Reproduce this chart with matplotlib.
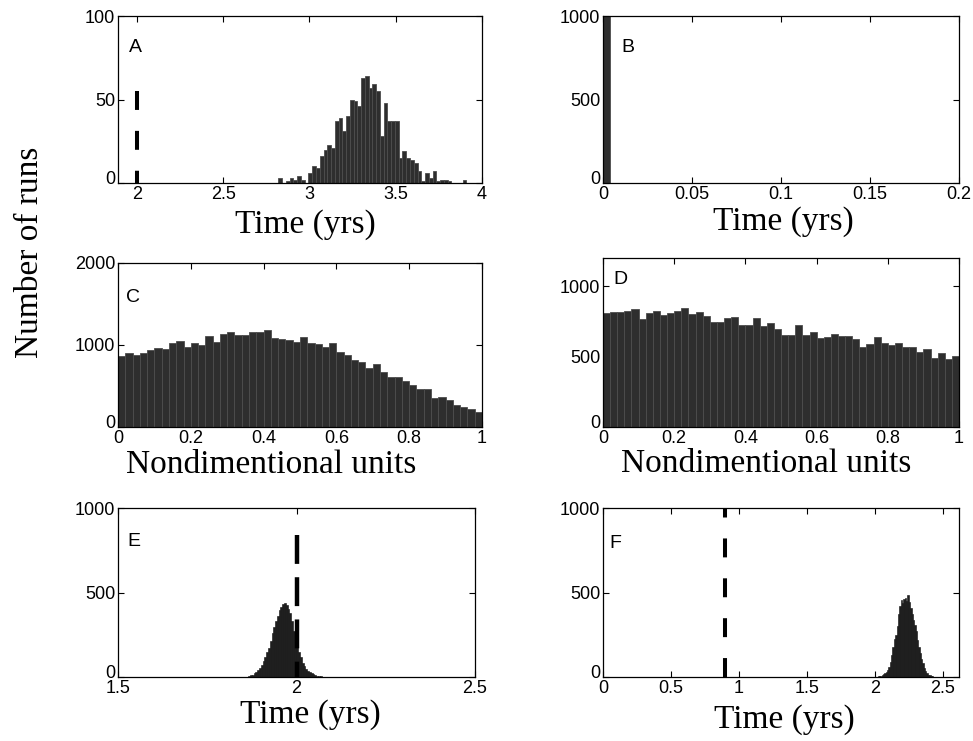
import numpy as np
import matplotlib
matplotlib.use('Agg')
import matplotlib.pyplot as plt
import matplotlib.transforms as mtrans
from matplotlib.ticker import FormatStrFormatter

plt.rcParams['font.family'] = 'Liberation Sans'

# ---- data ----
# A: time (yrs), 50 bins from 2.82, width 0.0218
a_start = 2.82
a_width = 0.0218
a_counts = [3, 0, 1, 3, 2, 4, 2, 0, 6, 10,
            9, 16, 20, 23, 21, 37, 39, 31, 40, 50,
            49, 46, 63, 64, 57, 59, 55, 28, 48, 37,
            37, 37, 15, 19, 15, 14, 12, 7, 1, 6,
            3, 7, 1, 2, 2, 1, 0, 0, 0, 2]
a_marker = 2.0
a_marker_top = 55

# B: almost everything in the first bin
b_left = [0.0]
b_width = 0.004
b_counts = [1000]

# C and D: 50 bins on [0, 1]
cd_width = 0.02
c_counts = [869, 898, 873, 906, 939, 967, 955, 1025, 1045, 975,
            1020, 1004, 1110, 1033, 1139, 1160, 1127, 1123, 1160, 1164,
            1180, 1086, 1070, 1061, 1041, 1094, 1020, 1008, 975, 1020,
            914, 873, 816, 787, 721, 762, 676, 607, 611, 557,
            516, 467, 467, 357, 369, 332, 266, 238, 213, 180]
d_counts = [807, 816, 814, 823, 835, 764, 811, 823, 792, 811,
            823, 842, 802, 814, 788, 748, 745, 771, 781, 726,
            724, 771, 719, 736, 693, 651, 651, 722, 656, 672,
            630, 639, 658, 646, 649, 623, 571, 587, 637, 597,
            582, 594, 568, 568, 533, 557, 493, 524, 483, 502]

# E: narrow bins from 1.86, width 0.005
e_start = 1.86
e_width = 0.005
e_counts = [2, 5, 9, 14, 21, 30, 40, 52, 70, 93,
            118, 146, 172, 210, 260, 295, 330, 362, 395, 415,
            432, 440, 425, 405, 380, 330, 275, 225, 185, 150,
            120, 85, 65, 48, 36, 28, 22, 16, 11, 7,
            5, 3, 2, 1, 1]
e_marker = 2.0
e_marker_top = 840

# F: narrow bins from 2.02, width 0.01
f_start = 2.02
f_width = 0.01
f_counts = [3, 5, 8, 12, 17, 22, 30, 42, 62, 90,
            130, 180, 222, 250, 300, 370, 420, 455, 440, 460,
            470, 450, 485, 445, 410, 370, 335, 305, 270, 220,
            180, 140, 105, 80, 55, 38, 24, 14, 9, 5,
            3, 1]
f_marker = 0.9
f_marker_top = 1000

BAR_FACE = '#2e2e2e'
BAR_EDGE = '#4d4d4d'

fig = plt.figure(figsize=(9.73, 7.41), dpi=100)

axA = fig.add_axes([0.1213, 0.753, 0.374, 0.2254])
axB = fig.add_axes([0.6197, 0.753, 0.366, 0.2254])
axC = fig.add_axes([0.1213, 0.4238, 0.374, 0.2213])
axD = fig.add_axes([0.6197, 0.4238, 0.366, 0.228])
axE = fig.add_axes([0.1213, 0.0864, 0.3669, 0.228])
axF = fig.add_axes([0.6197, 0.0864, 0.366, 0.228])


def hist_bars(ax, start, width, counts, face=BAR_FACE, edge=BAR_EDGE, lw=0.6):
    left = start + width * np.arange(len(counts))
    ax.bar(left, counts, width=width, align='edge', color=face,
           edgecolor=edge, linewidth=lw, zorder=2)


def style(ax, xlim, xticks, ylim, yticks, letter, lx, ly, xlabel, xl_pos):
    ax.set_xlim(*xlim)
    ax.set_ylim(*ylim)
    ax.set_xticks(xticks)
    ax.set_yticks(yticks)
    ax.xaxis.set_major_formatter(FormatStrFormatter('%g'))
    ax.yaxis.set_major_formatter(FormatStrFormatter('%g'))
    ax.tick_params(direction='in', top=True, right=True, length=4,
                   width=0.8, labelsize=13, pad=2)
    for s in ax.spines.values():
        s.set_linewidth(0.9)
    ax.text(lx, ly, letter, transform=ax.transAxes, fontsize=14,
            ha='center', va='center')
    ax.set_xlabel(xlabel, family='Liberation Serif', fontsize=24)
    ax.xaxis.set_label_coords(*xl_pos)
    ax.xaxis.label.set_va('center')
    # matlab puts the bottom "0" a little higher
    lift = mtrans.ScaledTranslation(0, 4 / 72, fig.dpi_scale_trans)
    lab0 = ax.get_yticklabels()[0]
    lab0.set_transform(lab0.get_transform() + lift)


# A
hist_bars(axA, a_start, a_width, a_counts)
axA.plot([a_marker, a_marker], [a_marker_top, 0], color='k', lw=2.9,
         dashes=(4.7, 5.2), dash_capstyle='butt', zorder=3)
style(axA, (1.89, 4.0), [2, 2.5, 3, 3.5, 4], (0, 100), [0, 50, 100],
      'A', 0.047, 0.81, 'Time (yrs)', (0.514, -0.25))

# B
axB.bar(b_left, b_counts, width=b_width, align='edge', color=BAR_FACE,
        edgecolor=BAR_EDGE, linewidth=0.6, zorder=2)
style(axB, (0, 0.2), [0, 0.05, 0.1, 0.15, 0.2], (0, 1000), [0, 500, 1000],
      'B', 0.07, 0.81, 'Time (yrs)', (0.506, -0.232))

# C
hist_bars(axC, 0.0, cd_width, c_counts)
style(axC, (0, 1), [0, 0.2, 0.4, 0.6, 0.8, 1], (0, 2000), [0, 1000, 2000],
      'C', 0.04, 0.79, 'Nondimentional units', (0.42, -0.232))

# D
hist_bars(axD, 0.0, cd_width, d_counts)
style(axD, (0, 1), [0, 0.2, 0.4, 0.6, 0.8, 1], (0, 1200), [0, 500, 1000],
      'D', 0.048, 0.87, 'Nondimentional units', (0.458, -0.216))

# E
hist_bars(axE, e_start, e_width, e_counts, face='#1e1e1e', edge='#101010', lw=0.4)
axE.plot([e_marker, e_marker], [e_marker_top, 0], color='k', lw=3.2,
         dashes=(6.5, 3.0), dash_capstyle='butt', zorder=3)
style(axE, (1.5, 2.5), [1.5, 2, 2.5], (0, 1000), [0, 500, 1000],
      'E', 0.045, 0.80, 'Time (yrs)', (0.538, -0.224))

# F
hist_bars(axF, f_start, f_width, f_counts, face='#1e1e1e', edge='#101010', lw=0.4)
axF.plot([f_marker, f_marker], [0, f_marker_top], color='k', lw=2.9,
         dashes=(4.7, 5.2), dash_capstyle='butt', zorder=3)
style(axF, (0, 2.62), [0, 0.5, 1, 1.5, 2, 2.5], (0, 1000), [0, 500, 1000],
      'F', 0.034, 0.79, 'Time (yrs)', (0.508, -0.254))

fig.text(0.031, 0.66, 'Number of runs', rotation=90, ha='center', va='center',
         family='Liberation Serif', fontsize=24)

fig.savefig('out.png', dpi=100)
